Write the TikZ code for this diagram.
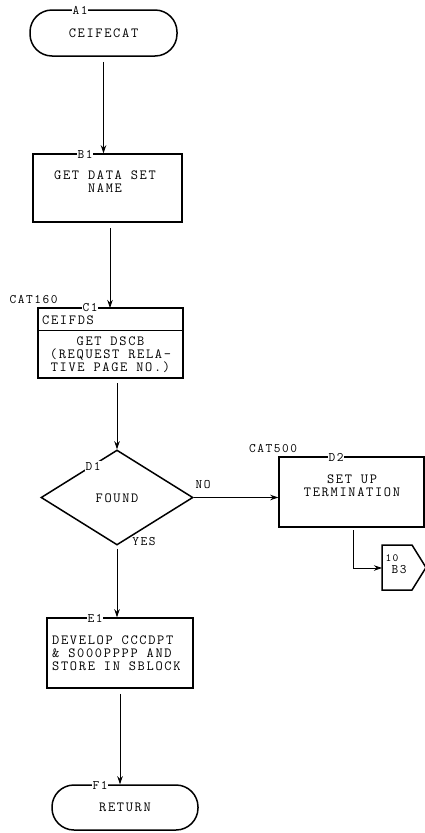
\documentclass[tikz,border=0pt]{standalone}
\usepackage{fontspec}
\usetikzlibrary{arrows.meta,shapes.geometric}
\newfontfamily\fcfont[LetterSpace=12]{Latin Modern Mono}
\tikzset{
  txt/.style={font=\fcfont\fontsize{14}{13}\selectfont, align=center, inner sep=0pt},
  term/.style={draw, line width=1.5pt, rounded corners=22pt, minimum width=147pt, minimum height=46pt, txt},
  box/.style={draw, line width=1.5pt, minimum width=146pt, minimum height=70pt, txt},
  dec/.style={draw, diamond, line width=1.5pt, minimum width=152pt, minimum height=95pt, txt},
  tag/.style={fill=white, inner sep=1pt, font=\fcfont\fontsize{13}{13}\selectfont},
  side/.style={inner sep=0pt, font=\fcfont\fontsize{13}{13}\selectfont},
  arr/.style={line width=0.8pt, -{Stealth[length=8pt,width=5.5pt]}},
}
\begin{document}
\begin{tikzpicture}[x=1pt,y=-1pt]
\useasboundingbox (0,0) rectangle (425,833);
% nodes
\node[term] (a1) at (103.5,33) {CEIFECAT};
\node[box, minimum width=149pt, minimum height=68pt] (b1) at (107.5,188) {};
\node[txt] (b1t) at (105,182) {GET DATA SET\\NAME};
\node[box, minimum width=145pt] (c1) at (110.5,343) {};
\node[txt, anchor=west] (c1h) at (42,320) {CEIFDS};
\node[txt] (c1t) at (110.5,355) {GET DSCB\\(REQUEST RELA-\\TIVE PAGE NO.)};
\node[dec] (d1) at (117,497.5) {};
\node[txt] (d1t) at (117,498) {FOUND};
\node[box, minimum width=145pt] (d2) at (351.5,492) {};
\node[txt] (d2t) at (352,486) {SET UP\\TERMINATION};
\node[box] (e1) at (120,653) {};
\node[txt, align=left, anchor=west] (e1t) at (52,653) {DEVELOP CCCDPT\\\& S000PPPP AND\\STORE IN SBLOCK};
\node[term, minimum width=146pt, minimum height=45pt] (f1) at (125,807.5) {RETURN};
% off-page connector
\draw[line width=1.5pt] (382,545) -- (412,545) -- (426,567.5) -- (412,590) -- (382,590) -- cycle;
\coordinate (cn) at (382,568);
\node[side, font=\fcfont\fontsize{11}{11}\selectfont] (cn1) at (392,558) {10};
\node[side] (cn2) at (399,570) {B3};
% tags
\node[tag] (ta1) at (80,10) {A1};
\node[tag] (tb1) at (85,154) {B1};
\node[tag] (tc1) at (90,308) {C1};
\node[tag] (td1) at (93,466) {D1};
\node[tag] (td2) at (336,457) {D2};
\node[tag] (te1) at (95,618) {E1};
\node[tag] (tf1) at (100,785) {F1};
\node[side] (cat160) at (33.5,300) {CAT160};
\node[side] (cat500) at (273,449) {CAT500};
\node[side] (no) at (203,485) {NO};
\node[side] (yes) at (144,542) {YES};
% divider in C1
\draw[line width=1.5pt] ([yshift=-23pt]c1.north west) -- ([yshift=-23pt]c1.north east);
% connectors
\draw[arr, shorten <=5pt] (a1.south) -- (a1.south |- b1.north);
\draw[arr] (110,228) -- (110,308);
\draw[arr] (d1.north |- 0,383) -- (d1.north);
\draw[arr] (d1.east) -- (d1.east -| d2.west);
\draw[arr] (353,530) |- (cn);
\draw[arr, shorten <=3pt] (d1.south) -- (d1.south |- e1.north);
\draw[arr, shorten <=5pt] (e1.south) -- (e1.south |- f1.north);
\end{tikzpicture}
\end{document}
